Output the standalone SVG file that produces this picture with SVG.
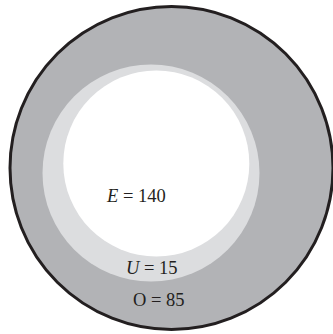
<svg xmlns="http://www.w3.org/2000/svg" width="333" height="334" viewBox="0 0 333 334">
<style>
.t{font-family:"Liberation Serif","Times New Roman",serif;font-size:18.5px;fill:#231f20}
.i{font-style:italic}
</style>
<rect width="333" height="334" fill="#ffffff"/>
<g id="outer"><circle cx="171.5" cy="168" r="161.5" fill="#b2b3b6" stroke="#231f20" stroke-width="3"/></g>
<g id="U"><circle cx="151" cy="173" r="108.5" fill="#dcdddf"/></g>
<g id="E"><circle cx="156.3" cy="163.5" r="93" fill="#ffffff"/></g>
<g id="labels">
<text class="t" x="107" y="202"><tspan class="i">E</tspan> = 140</text>
<text class="t" x="126" y="274"><tspan class="i">U</tspan> = 15</text>
<text class="t" x="133" y="306">O = 85</text>
</g>
</svg>
